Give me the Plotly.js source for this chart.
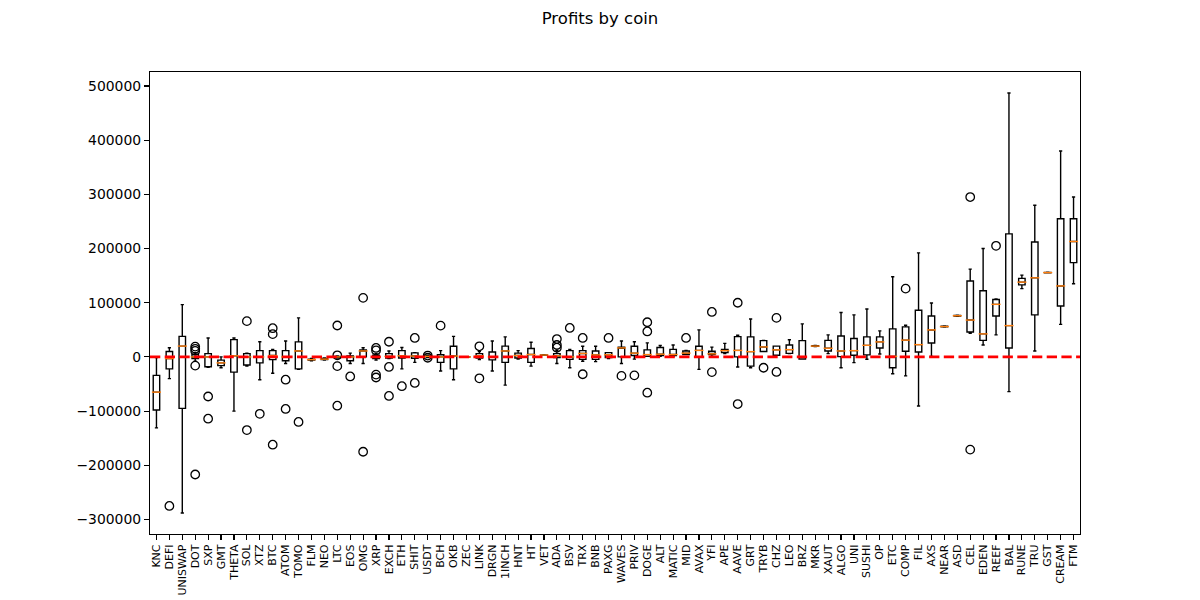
<!DOCTYPE html>
<html>
<head>
<meta charset="utf-8">
<script src="https://cdn.plot.ly/plotly-3.0.1.min.js"></script>
<style>html,body{margin:0;padding:0;background:#fff}#chart{width:1200px;height:600px}</style>
</head>
<body>
<div id="chart"></div>
<script>
const coins = ["KNC","DEFI","UNISWAP","DOT","SXP","GMT","THETA","SOL","XTZ","BTC","ATOM","TOMO","FLM","NEO","LTC","EOS","OMG","XRP","EXCH","ETH","SHIT","USDT","BCH","OKB","ZEC","LINK","DRGN","1INCH","HNT","HT","VET","ADA","BSV","TRX","BNB","PAXG","WAVES","PRIV","DOGE","ALT","MATIC","MID","AVAX","YFI","APE","AAVE","GRT","TRYB","CHZ","LEO","BRZ","MKR","XAUT","ALGO","UNI","SUSHI","OP","ETC","COMP","FIL","AXS","NEAR","ASD","CEL","EDEN","REEF","BAL","RUNE","TRU","GST","CREAM","FTM"];

const lowWhisker = [-131000,-40000,-288000,-8000,-19000,-20000,-100000,-17000,-42000,-30000,-12000,-23000,-7000,-6000,-2000,-12000,-12000,-6000,-3000,-22000,-10000,-1000,-26000,-42000,-500,-5000,-26000,-52000,-4000,-17000,3000,-12000,-20000,-8000,-8600,-3000,-12000,-4000,1000,1000,1000,4400,-23000,1000,6000,-18500,-20000,10000,3000,6000,-3700,19000,6000,-20000,-10500,-4400,5500,-31000,-35000,-90500,1000,55000,75000,43500,22000,40600,-64000,126000,11000,155000,60000,135000];
const q1 = [-98000,-22000,-95000,-3000,-18000,-16000,-28000,-15000,-11000,-5000,-7000,-22000,-6000,-5000,-1000,-7000,0,-3000,-2000,-2000,-2500,0,-10000,-22000,-300,-2000,-5500,-10000,-2000,-10000,3200,-1000,-4500,-4500,-4500,-1000,0,2500,1000,2500,2500,4400,0,4400,8000,0,-17000,10000,3000,6600,-3700,19500,11000,500,3000,3700,16600,-20000,10400,9000,25800,55500,75500,46000,30600,75600,16600,133000,77500,155300,94000,174000];
const medians = [-65000,-3000,20000,0,0,-11000,2000,0,0,2500,0,11000,-5000,-4000,0,0,11000,0,1000,2000,1600,1000,0,1600,0,2000,0,11000,2500,4400,3500,2000,0,6400,3700,4000,16600,7000,4300,5000,4400,7000,12000,5700,11600,12000,9800,18400,13000,13500,600,20000,16000,11000,11600,21400,27700,1000,31000,22700,49800,56000,76000,68000,42500,97000,57800,138000,146000,155600,131000,213000];
const q3 = [-34000,10000,38000,5000,6000,-6000,32000,6000,11600,11600,11600,27700,-4000,-3000,1000,2000,13000,3000,6000,11600,7500,2000,4000,19600,300,6000,9000,20000,7000,15600,3800,6000,11600,11600,11000,8000,17800,19600,13000,17500,14000,11000,19600,10500,14000,37500,37000,30000,20000,22000,30000,20500,30600,38700,34000,37000,37000,51700,55400,86000,75600,56500,76500,140000,122000,106000,227000,145000,212000,156000,255000,255000];
const highWhisker = [-1000,17000,96500,8000,35000,0,35000,7000,28000,13600,29500,72000,-3000,-2000,2000,7000,17000,6000,11000,17500,8000,3000,11600,38000,500,10000,29500,37000,11600,27000,4000,12000,14000,19600,19600,8000,29500,28000,26000,21000,22000,12000,50000,18000,25000,40000,70000,30600,20000,31700,61000,21000,40600,82000,77500,88500,48000,148000,58400,192000,99600,57000,77000,162000,200000,107000,487000,151000,280000,156300,380000,295000];

const outlierCoin = ["DEFI","DOT","DOT","DOT","DOT","DOT","SXP","SXP","SOL","SOL","XTZ","BTC","BTC","BTC","ATOM","ATOM","TOMO","LTC","LTC","LTC","LTC","EOS","OMG","OMG","XRP","XRP","XRP","XRP","EXCH","EXCH","EXCH","ETH","SHIT","SHIT","USDT","USDT","BCH","LINK","LINK","ADA","ADA","ADA","BSV","TRX","TRX","PAXG","WAVES","PRIV","DOGE","DOGE","DOGE","MID","YFI","YFI","AAVE","AAVE","TRYB","CHZ","CHZ","COMP","CEL","CEL","REEF"];
const outlierValue = [-275000,19000,15000,11000,-16000,-217000,-73000,-114000,66000,-135000,-105000,53000,42000,-162000,-42000,-96000,-120000,58000,3000,-17000,-90000,-36000,109000,-175000,16600,12000,-32700,-38000,28000,-18500,-72000,-54000,35000,-48000,2500,-1500,57700,19600,-39500,33000,22000,17000,53500,35000,-32000,35000,-35000,-34000,64000,47000,-66000,35000,83000,-28000,100000,-87000,-20000,72000,-27700,126000,295000,-171000,205000];

const yTickValues = [-300000,-200000,-100000,0,100000,200000,300000,400000,500000];
const yTickLabels = ["\u2212300000","\u2212200000","\u2212100000","0","100000","200000","300000","400000","500000"];

const font = "DejaVu Sans, sans-serif";

const traces = [
  {
    type: "box",
    x: coins,
    q1: q1,
    median: medians,
    q3: q3,
    lowerfence: lowWhisker,
    upperfence: highWhisker,
    boxpoints: false,
    width: 0.5,
    whiskerwidth: 0.5,
    line: {color: "black", width: 1.4},
    fillcolor: "rgba(0,0,0,0)",
    showlegend: false,
    hoverinfo: "skip"
  },
  {
    type: "scatter",
    mode: "markers",
    x: coins,
    y: medians,
    marker: {symbol: "line-ew", size: 6.5, color: "#ff7f0e", line: {color: "#ff7f0e", width: 1.4}},
    showlegend: false,
    hoverinfo: "skip"
  },
  {
    type: "scatter",
    mode: "markers",
    x: outlierCoin,
    y: outlierValue,
    marker: {symbol: "circle-open", size: 8.5, color: "black", line: {color: "black", width: 1.3}},
    showlegend: false,
    hoverinfo: "skip"
  }
];

const layout = {
  width: 1200,
  height: 600,
  margin: {l: 150, r: 120, t: 72, b: 66},
  paper_bgcolor: "white",
  plot_bgcolor: "white",
  font: {family: font, color: "black"},
  title: {
    text: "Profits by coin",
    x: 0.5, xref: "container", xanchor: "center",
    y: 0.98, yref: "container", yanchor: "top",
    font: {family: font, size: 16.5, color: "black"}
  },
  xaxis: {
    type: "category",
    categoryorder: "array",
    categoryarray: coins,
    range: [-0.5, coins.length - 0.5],
    tickmode: "array",
    tickvals: coins,
    ticktext: coins,
    tickangle: -90,
    tickfont: {family: font, size: 11, color: "black"},
    ticks: "outside", ticklen: 5, tickwidth: 1.1, tickcolor: "black",
    showline: true, linecolor: "black", linewidth: 1.1, mirror: true,
    showgrid: false, zeroline: false, automargin: false
  },
  yaxis: {
    range: [-326750, 525750],
    tickmode: "array",
    tickvals: yTickValues,
    ticktext: yTickLabels,
    tickfont: {family: font, size: 13.9, color: "black"},
    ticks: "outside", ticklen: 5, tickwidth: 1.1, tickcolor: "black",
    showline: true, linecolor: "black", linewidth: 1.1, mirror: true,
    showgrid: false, zeroline: false, automargin: false
  },
  shapes: [{
    type: "line", xref: "paper", x0: 0, x1: 1, yref: "y", y0: 0, y1: 0,
    line: {color: "red", width: 2.8, dash: "10.3px,4.4px"},
    layer: "above"
  }]
};

Plotly.newPlot("chart", traces, layout, {displayModeBar: false, staticPlot: true});
</script>
</body>
</html>
